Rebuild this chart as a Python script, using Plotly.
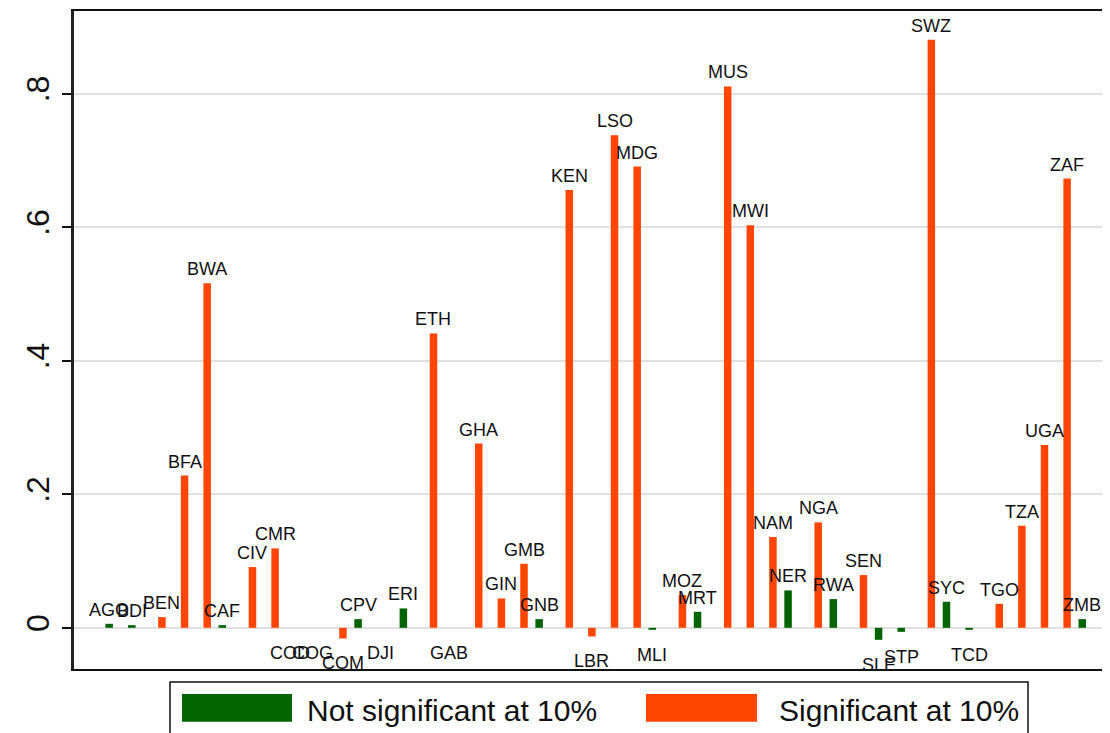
import plotly.graph_objects as go

countries = ["AGO", "BDI", "BEN", "BFA", "BWA", "CAF", "CIV", "CMR", "COD", "COG",
             "COM", "CPV", "DJI", "ERI", "ETH", "GAB", "GHA", "GIN", "GMB", "GNB",
             "KEN", "LBR", "LSO", "MDG", "MLI", "MOZ", "MRT", "MUS", "MWI", "NAM",
             "NER", "NGA", "RWA", "SEN", "SLE", "STP", "SWZ", "SYC", "TCD", "TGO",
             "TZA", "UGA", "ZAF", "ZMB"]
values = [0.006, 0.004, 0.016, 0.228, 0.516, 0.004, 0.091, 0.119, 0.0, 0.0,
          -0.016, 0.013, 0.0, 0.029, 0.441, 0.0, 0.276, 0.044, 0.096, 0.013,
          0.656, -0.013, 0.738, 0.691, -0.003, 0.049, 0.024, 0.811, 0.603, 0.136,
          0.056, 0.158, 0.043, 0.079, -0.018, -0.006, 0.881, 0.039, -0.003, 0.036,
          0.153, 0.274, 0.673, 0.013]
significant = [0, 0, 1, 1, 1, 0, 1, 1, 0, 0,
               1, 0, 0, 0, 1, 0, 1, 1, 1, 0,
               1, 1, 1, 1, 0, 1, 0, 1, 1, 1,
               0, 1, 0, 1, 0, 0, 1, 0, 0, 1,
               1, 1, 1, 0]
tick_vals = [0, 0.2, 0.4, 0.6, 0.8]
tick_text = ["0", ".2", ".4", ".6", ".8"]
legend_labels = ["Not significant at 10%", "Significant at 10%"]

GREEN = "#006400"
ORANGE = "#FF4500"
FONT = "Liberation Sans, Arial"
W, H = 1110, 733
# the page body adds an 8px offset; plot area on page spans x 74..1110, y 9..669
ML, MR, MT, MB = 66, 8, 1, 72
BARGAP = 0.337

idx = list(range(len(countries)))
nonsig_vals = [v if s == 0 else None for v, s in zip(values, significant)]
sig_vals = [v if s == 1 else None for v, s in zip(values, significant)]

fig = go.Figure()
fig.add_trace(go.Bar(x=idx, y=nonsig_vals, marker_color=GREEN, marker_line_width=0,
                     name=legend_labels[0], showlegend=False))
fig.add_trace(go.Bar(x=idx, y=sig_vals, marker_color=ORANGE, marker_line_width=0,
                     name=legend_labels[1], showlegend=False))

# country labels at each bar's slot
d = (1 - BARGAP) / 4
annotations = []
for i, c, v, s in zip(idx, countries, values, significant):
    xpos = i + (d if s == 1 else -d)
    if v > 0:
        annotations.append(dict(x=xpos, y=v, xref="x", yref="y", text=c, showarrow=False,
                                yanchor="bottom", yshift=2,
                                font=dict(family=FONT, size=18, color="#111")))
    else:
        annotations.append(dict(x=xpos, y=v, xref="x", yref="y", text=c, showarrow=False,
                                yanchor="top", yshift=-13,
                                font=dict(family=FONT, size=18, color="#111")))

# legend drawn as large swatches (Stata style); coordinates in page pixels
pw = 1110 - 74
ph = 669 - 9


def px(xp):
    return (xp - 74) / pw


def py(yp):
    return (669 - yp) / ph


shapes = [
    dict(type="rect", xref="paper", yref="paper", x0=px(170), x1=px(1028), y0=py(682), y1=py(760),
         line=dict(color="#111", width=1.5), fillcolor="rgba(0,0,0,0)", layer="above"),
    dict(type="rect", xref="paper", yref="paper", x0=px(182), x1=px(292), y0=py(694), y1=py(722),
         line=dict(width=0), fillcolor=GREEN),
    dict(type="rect", xref="paper", yref="paper", x0=px(646), x1=px(757), y0=py(694), y1=py(722),
         line=dict(width=0), fillcolor=ORANGE),
]
annotations.append(dict(x=px(305), y=py(711), xref="paper", yref="paper", text=legend_labels[0],
                        showarrow=False, xanchor="left", yanchor="middle",
                        font=dict(family=FONT, size=30, color="#111")))
annotations.append(dict(x=px(777), y=py(711), xref="paper", yref="paper", text=legend_labels[1],
                        showarrow=False, xanchor="left", yanchor="middle",
                        font=dict(family=FONT, size=30, color="#111")))

fig.update_layout(
    width=W, height=H,
    margin=dict(l=ML, r=MR, t=MT, b=MB),
    paper_bgcolor="white", plot_bgcolor="white",
    barmode="group", bargap=BARGAP, bargroupgap=0,
    showlegend=False,
    annotations=annotations,
    shapes=shapes,
    xaxis=dict(range=[-1.72, 44.06], showticklabels=False, ticks="", showgrid=False,
               zeroline=False, showline=True, linecolor="#111", linewidth=1.5, mirror=True),
    yaxis=dict(range=[-0.0617, 0.924], tickvals=tick_vals, ticktext=tick_text,
               tickangle=-90, ticks="outside", ticklen=9, tickwidth=1.5, tickcolor="#111",
               showgrid=True, gridcolor="#e0e0e0", gridwidth=2, zeroline=False,
               showline=True, linecolor="#222", linewidth=2.5,
               tickfont=dict(family=FONT, size=32, color="#111")),
)

fig.write_html("out.html")
